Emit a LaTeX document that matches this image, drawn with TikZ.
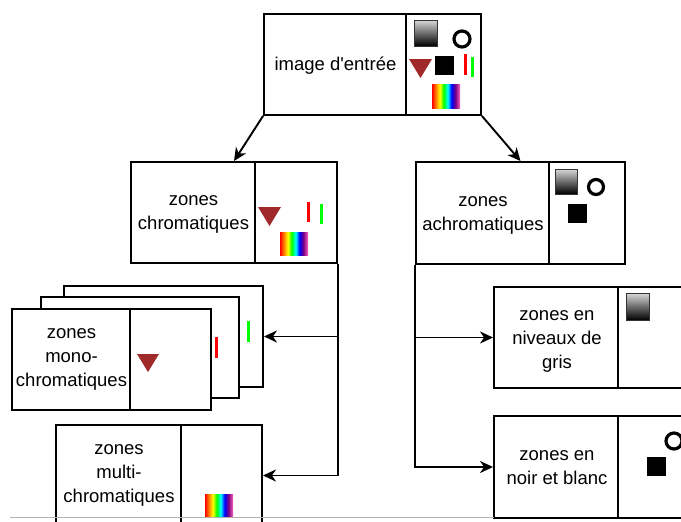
\documentclass[tikz,border=0pt]{standalone}
\usepackage{fontspec}
\setmainfont{Liberation Sans}
\usetikzlibrary{arrows.meta}
\pgfdeclarehorizontalshading{rainbow}{100bp}{color(0bp)=(red); color(25bp)=(red); color(32bp)=(orange); color(39bp)=(yellow); color(46bp)=(green); color(53bp)=(cyan); color(60bp)=(blue); color(67bp)=(violet); color(75bp)=(magenta!60!red!60!white); color(100bp)=(magenta!60!red!60!white)}
\definecolor{tri}{RGB}{160,42,42}
\begin{document}
\begin{tikzpicture}[x=1pt,y=-1pt,
  box/.style={draw=black, line width=1.9pt, fill=white, inner sep=0pt, minimum width=#1},
  box/.default=206pt,
  divl/.style={draw=black, line width=1.9pt},
  lab/.style={align=center, inner sep=0pt, font=\fontsize{18.5}{24}\selectfont},
  arr/.style={-{Stealth[length=13pt,width=12pt,inset=4pt]}, line width=1.9pt},
  gsq/.style={top color=white!85!black, bottom color=black, draw=black!80, line width=0.8pt},
  bsq/.style={fill=black},
  ring/.style={draw=black, line width=3.2pt},
  rbar/.style={fill=red},
  gbar/.style={fill=green},
  rbow/.style={shading=rainbow},
  tria/.style={fill=tri}
]
\useasboundingbox (0,0) rectangle (681,522);
\clip (0,0) rectangle (681,522);

% top box
\node[box=217pt, minimum height=101pt] (top) at (372.5,64.5) {};
\draw[divl] ([xshift=143pt]top.north west) -- ([xshift=143pt]top.south west);
\node[lab] (toplab) at (335.5,65.5) {image d\textquotesingle entrée};
\shade[gsq] (414,20) rectangle (437,46);
\draw[ring] (462,39) circle (8);
\fill[tria] (409,59) -- (432,59) -- (420.5,78) -- cycle;
\fill[bsq] (435,56) rectangle (454,75);
\fill[rbar] (464,54) rectangle (467,75);
\fill[gbar] (471,57) rectangle (474,77);
\shade[rbow] (432,84) rectangle (460,108);

% chromatic
\node[box=206pt, minimum height=101pt] (chrom) at (234,212.5) {};
\draw[divl] ([xshift=125pt]chrom.north west) -- ([xshift=125pt]chrom.south west);
\node[lab] (chromlab) at (193.5,214) {zones\\chromatiques};
\fill[tria] (258,207) -- (281,207) -- (269.5,226) -- cycle;
\fill[rbar] (307,202) rectangle (310,222);
\fill[gbar] (320,204) rectangle (323,224);
\shade[rbow] (280,232) rectangle (308,255);

% achromatic
\node[box=209pt, minimum height=102pt] (achrom) at (520.5,213) {};
\draw[divl] ([xshift=134pt]achrom.north west) -- ([xshift=134pt]achrom.south west);
\node[lab] (achromlab) at (483,215) {zones\\achromatiques};
\shade[gsq] (555,169) rectangle (577,194);
\draw[ring] (596,187) circle (7.5);
\fill[bsq] (568,204) rectangle (587,223);

% stacked monochromatic boxes
\node[box=199pt, minimum height=101pt] (back) at (163.5,336.5) {};
\fill[gbar] (247,321) rectangle (250,342);
\node[box=198pt, minimum height=101pt] (mid) at (140,347.5) {};
\fill[rbar] (215,337) rectangle (218,358);
\node[box=199pt, minimum height=101pt] (mono) at (111.5,359.5) {};
\draw[divl] ([xshift=119pt]mono.north west) -- ([xshift=119pt]mono.south west);
\node[lab] (monolab) at (71.5,359) {zones\\mono-\\chromatiques};
\fill[tria] (137,354) -- (159,354) -- (148,372) -- cycle;

% multichromatic
\node[box=206pt, minimum height=101pt] (multi) at (159,475.5) {};
\draw[divl] ([xshift=126pt]multi.north west) -- ([xshift=126pt]multi.south west);
\node[lab] (multilab) at (119,475) {zones\\multi-\\chromatiques};
\shade[rbow] (205,494) rectangle (233,517);

% grey levels
\node[box=207pt, minimum height=101pt] (grey) at (597.5,337.5) {};
\draw[divl] ([xshift=125pt]grey.north west) -- ([xshift=125pt]grey.south west);
\node[lab] (greylab) at (557,341) {zones en\\niveaux de\\gris};
\shade[gsq] (626,293) rectangle (649,320);

% black and white
\node[box=207pt, minimum height=102pt] (nb) at (597.5,467) {};
\draw[divl] ([xshift=125pt]nb.north west) -- ([xshift=125pt]nb.south west);
\node[lab] (nblab) at (557,468) {zones en\\noir et blanc};
\fill[bsq] (647,457) rectangle (666,476);
\draw[ring] (674,441) circle (8);

% connectors
\draw[arr] (top.south west) -- (chrom.north);
\draw[arr] (top.south east) -- (achrom.north);
\draw[arr] (chrom.south east) |- (back.east);
\draw[arr] (chrom.south east) |- (multi.east);
\draw[arr] (achrom.south west) |- (grey.west);
\draw[arr] (achrom.south west) |- (nb.west);

% light separator line at the bottom
\draw[black!30, line width=0.8pt] (10,517.5) -- (494,517.5);
\end{tikzpicture}
\end{document}
